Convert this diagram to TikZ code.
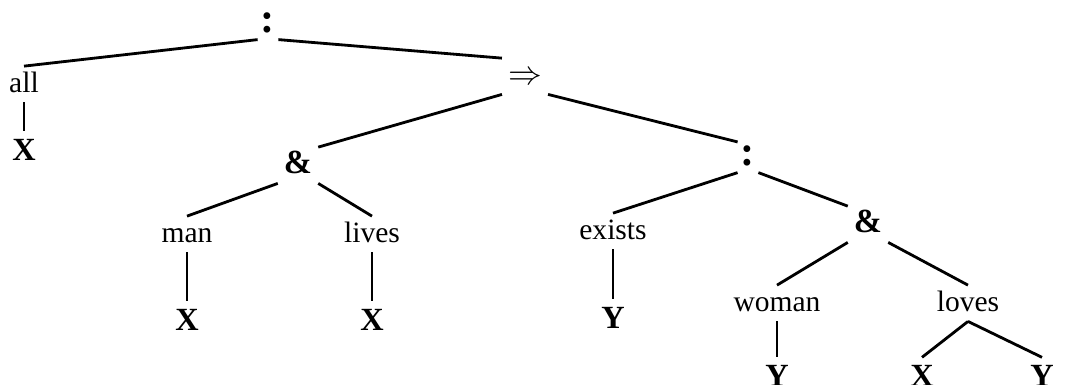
\documentclass[tikz,border=0pt]{standalone}
\usepackage{fontspec}
\setmainfont{Liberation Serif}

\begin{document}
\begin{tikzpicture}[
	x=0.0125cm, y=-0.0125cm,
	label/.style={anchor=base, inner sep=2pt, text height=7pt, text depth=1.5pt, font=\fontsize{10.5}{12}\selectfont},
	op/.style={label, font=\fontsize{12}{14}\selectfont\bfseries},
	colon/.style={label, inner sep=1pt, font=\fontsize{15}{17}\selectfont\bfseries},
	var/.style={anchor=base, inner sep=2pt, text height=8pt, text depth=1pt, font=\fontsize{11.5}{13}\selectfont\bfseries},
	edge/.style={line width=1pt}
	]
	\useasboundingbox (0,0) rectangle (1068,384);
	
	% Operators
	\node[colon] (root) at (268, 32) {:};
	\node[op] (impl) at (525, 84) {$\Rightarrow$};
	\node[op] (and1) at (298, 173) {\&};
	\node[colon] (colon2) at (748, 165) {:};
	\node[op] (and2) at (868, 232) {\&};
	
	% Predicates and quantifiers
	\node[label] (all) at (24, 92) {all};
	\node[label] (man) at (187, 242) {man};
	\node[label] (lives) at (372, 242) {lives};
	\node[label] (exists) at (613, 239) {exists};
	\node[label] (woman) at (777, 311) {woman};
	\node[label] (loves) at (968, 311) {loves};
	
	% Variables
	\node[var] (xa) at (24, 160) {X};
	\node[var] (xb) at (187, 330) {X};
	\node[var] (xc) at (372, 330) {X};
	\node[var] (ya) at (613, 328) {Y};
	\node[var] (yb) at (777, 386) {Y};
	\node[var] (xd) at (922, 386) {X};
	\node[var] (yc) at (1042, 386) {Y};
	
	% Branches
	\foreach \p/\pa/\c/\ca in {root/south west/all/north, root/south east/impl/north west,
		impl/south west/and1/north east, impl/south east/colon2/north west,
		and1/south west/man/north, and1/south east/lives/north,
		colon2/south west/exists/north, colon2/south east/and2/north west,
		and2/south west/woman/north, and2/south east/loves/north,
		loves/south/xd/north, loves/south/yc/north}
		\draw[edge] (\p.\pa) -- (\c.\ca);
	
	% Arguments
	\foreach \p/\c in {all/xa, man/xb, lives/xc, exists/ya, woman/yb}
		\draw[edge] (\p.south) -- (\c.north);
	
\end{tikzpicture}
\end{document}
